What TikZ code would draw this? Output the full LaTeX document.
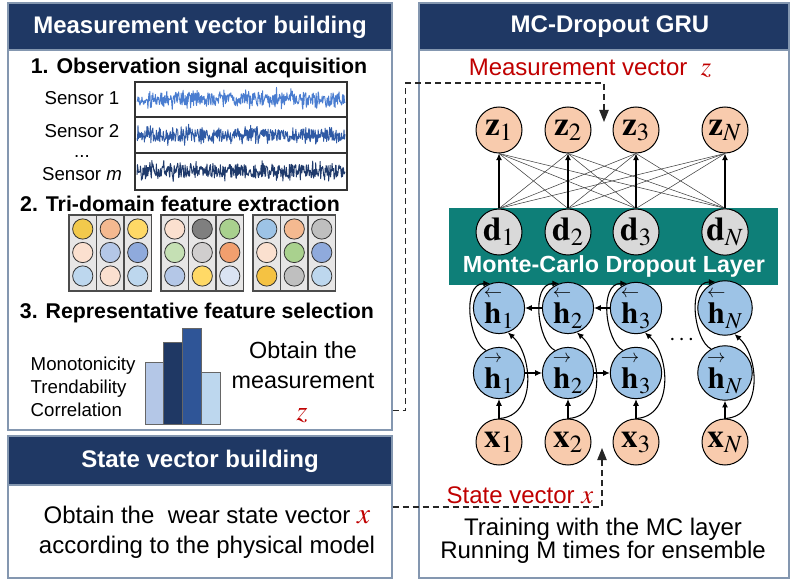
\documentclass[tikz,border=0pt]{standalone}
\usepackage{amsmath}
\usepackage{mathptmx}
\usepackage[no-math]{fontspec}
\setmainfont{Liberation Sans}
\usetikzlibrary{arrows.meta,positioning,fit,calc}
\definecolor{navy}{HTML}{1F3864}
\definecolor{panelline}{HTML}{8497B0}
\definecolor{mcteal}{HTML}{0E7F78}
\definecolor{vecred}{HTML}{C00000}
\definecolor{obsfill}{HTML}{F8CBAD}
\definecolor{hidfill}{HTML}{9DC3E6}
\definecolor{dropfill}{HTML}{D9D9D9}
\definecolor{sigA}{HTML}{4A7DD0}
\definecolor{sigB}{HTML}{2F5AA5}
\definecolor{sigC}{HTML}{1F3A6B}
\definecolor{barmid}{HTML}{2F5597}
\definecolor{colgray}{HTML}{E7E6E6}
% feature dot colours
\definecolor{fgold}{HTML}{F2C94C}
\definecolor{fpeachlt}{HTML}{FBE0CF}
\definecolor{fsky}{HTML}{BDD7EE}
\definecolor{fpeach}{HTML}{F4B990}
\definecolor{flav}{HTML}{B4C7E7}
\definecolor{fyellow}{HTML}{FFD966}
\definecolor{fblue}{HTML}{8FAADC}
\definecolor{fmint}{HTML}{C5E0B4}
\definecolor{fgraydk}{HTML}{7F7F7F}
\definecolor{fgraylt}{HTML}{D0CECE}
\definecolor{fgreen}{HTML}{A9D18E}
\definecolor{forange}{HTML}{F19F6E}
\definecolor{fpale}{HTML}{DAE3F3}
\definecolor{fazure}{HTML}{9DC3E6}
\definecolor{famber}{HTML}{F5C242}
\definecolor{fgray}{HTML}{BFBFBF}
\tikzset{
  panel/.style={draw=panelline, line width=1.1pt, fill=white, inner sep=0pt},
  titlebar/.style={draw=panelline, fill=navy, line width=1.1pt, inner sep=0pt},
  titletext/.style={text=white, font=\fontsize{18}{20}\selectfont\bfseries},
  steptext/.style={font=\fontsize{16}{18}\selectfont\bfseries},
  plaintext/.style={font=\fontsize{18}{22.5}\selectfont, align=center},
  redtext/.style={text=vecred, font=\fontsize{18}{20}\selectfont},
  sensortext/.style={font=\fontsize{14}{16}\selectfont},
  netnode/.style={circle, draw=black, line width=0.75pt, minimum size=34.5pt, inner sep=0pt, font=\fontsize{25}{26}\selectfont},
  obsnode/.style={netnode, fill=obsfill},
  hidnode/.style={netnode, fill=hidfill, font=\fontsize{23}{24}\selectfont},
  dropnode/.style={netnode, fill=dropfill},
  mclayer/.style={fill=mcteal, draw=none, inner sep=0pt},
  harrow/.style={-{Latex[length=5pt,width=4.5pt]}, line width=0.8pt, draw=black},
  crossline/.style={line width=0.4pt, draw=black!75},
  dashlink/.style={-{Triangle[length=9pt,width=7pt]}, dash pattern=on 4.5pt off 3pt, line width=0.8pt, draw=black!85},
  signal/.style={line width=0.7pt, line join=round},
  featcol/.style={draw=black!70, fill=colgray, line width=0.8pt},
  featdot/.style={draw=black!80, line width=0.6pt},
  bar/.style={draw=black!60, line width=0.6pt}
}
\newcommand{\hfw}[1]{$\overset{\scriptscriptstyle\rightarrow}{\mathbf{h}}_{#1}$}
\newcommand{\hbw}[1]{$\overset{\scriptscriptstyle\leftarrow}{\mathbf{h}}_{#1}$}

\begin{document}
\begin{tikzpicture}[x=0.75pt, y=-0.75pt]
  \useasboundingbox (0,0) rectangle (790,581);

  % ---- measurement vector panel ----
  \node[panel, fit={(8,3) (392,430)}] (meas) {};
  \node[titlebar, fit={(8,3) (392,50)}] (meastitle) {};
  \node[titletext] (meashead) at (200,27) {Measurement vector building};
  \node[steptext] (stepone) at (199,68) {1. Observation signal acquisition};

  \node[sensortext] (sens1) at (82,98) {Sensor 1};
  \node[sensortext] (sens2) at (82,131) {Sensor 2};
  \node[sensortext] (sensdots) at (82,157) {...};
  \node[sensortext] (sensm) at (82,174) {Sensor \textit{m}};

  \pgfmathsetseed{11}
  \begin{scope}
    \clip (135,82) rectangle (347,190);
    \foreach \sy/\sc in {99/sigA,135/sigB,171/sigC}
      \draw[signal, draw=\sc] plot[domain=137:345, samples=420] (\x, {\sy+rand*(6+6*pow(abs(rand),3))});
  \end{scope}
  \draw[line width=0.9pt, draw=black!80] (135,82) rectangle (347,190);
  \draw[line width=0.9pt, draw=black!80] (135,117) -- (347,117) (135,153) -- (347,153);

  \node[steptext] (steptwo) at (180,204) {2. Tri-domain feature extraction};
  \foreach \gx in {69,161,253}
    \foreach \c in {0,1,2}
      \draw[featcol] ({\gx+\c*27.5},215) rectangle ++(27.5,76);
  \foreach \cx/\ca/\cb/\cc in {82.75/fgold/fpeachlt/fsky, 110.25/fpeach/flav/fpeachlt, 137.75/fyellow/fblue/fsky,
                               174.75/fpeachlt/fmint/flav, 202.25/fgraydk/fgraylt/fyellow, 229.75/fgreen/forange/fpale,
                               266.75/fazure/fpeachlt/famber, 294.25/fpeach/fgreen/fgray, 321.75/fgray/fblue/fsky} {
    \draw[featdot, fill=\ca] (\cx,229) circle[radius=7.6pt];
    \draw[featdot, fill=\cb] (\cx,252.5) circle[radius=7.6pt];
    \draw[featdot, fill=\cc] (\cx,276) circle[radius=7.6pt];
  }

  \node[steptext] (stepthree) at (197,313) {3. Representative feature selection};
  \node[sensortext, anchor=west, align=left, font=\fontsize{14}{17.25}\selectfont] (criteria) at (26,387) {Monotonicity\\Trendability\\Correlation};
  \draw[bar, fill=flav] (145,362) rectangle (163,424);
  \draw[bar, fill=navy] (163,342) rectangle (182,424);
  \draw[bar, fill=barmid] (182,328) rectangle (201,424);
  \draw[bar, fill=fsky] (201,372) rectangle (220,424);
  \node[plaintext, font=\fontsize{17.5}{22.5}\selectfont] (obtainz) at (303,365) {Obtain the\\measurement};
  \node[text=vecred, font=\fontsize{21}{22}\selectfont] (zsym) at (302,416) {$z$};

  % ---- state vector panel ----
  \node[panel, fit={(8,436) (392,578)}] (statebox) {};
  \node[titlebar, fit={(8,436) (392,485)}] (statetitle) {};
  \node[titletext] (statehead) at (200,461) {State vector building};
  \node[plaintext] (obtainx) at (207,532) {Obtain the \ wear state vector {\color{vecred}\fontsize{22}{22}\selectfont$x$}\\according to the physical model};

  % ---- MC-dropout GRU panel ----
  \node[panel, fit={(419,3) (789,578)}] (gru) {};
  \node[titlebar, fit={(419,3) (789,50)}] (grutitle) {};
  \node[titletext] (gruhead) at (610,27) {MC-Dropout GRU};
  \node[redtext] (zlabel) at (590,68) {Measurement vector \ {\fontsize{20}{20}\selectfont$z$}};

  \node[mclayer, fit={(449,208) (778,285)}] (mcl) {};
  \node[titletext, font=\fontsize{17.5}{20}\selectfont\bfseries] (mcltext) at (614,266) {Monte-Carlo Dropout Layer};

  \foreach \cx/\k [count=\i] in {499/1,568/2,636/3,725/N} {
    \node[obsnode] (z\i) at (\cx,130) {$\mathbf{z}_{\k}$};
    \node[dropnode] (d\i) at (\cx,232) {$\mathbf{d}_{\k}$};
    \node[hidnode] (hb\i) at (\cx,308) {\hbw{\k}};
    \node[hidnode] (hf\i) at (\cx,373) {\hfw{\k}};
    \node[obsnode] (x\i) at (\cx,442) {$\mathbf{x}_{\k}$};
  }
  \node[font=\fontsize{18}{20}\selectfont] (hdots) at (683,340) {$\cdots$};

  % fully connected dropout -> output
  \foreach \i in {1,...,4}
    \foreach \j in {1,...,4} {
      \ifnum\i=\j\relax\else\draw[crossline] (d\i.north) -- (z\j.south);\fi
    }
  \foreach \i in {1,...,4} {
    \draw[harrow] (d\i) -- (z\i);
    \draw[harrow] (x\i) -- (hf\i);
    \draw[harrow] (x\i.north) .. controls +(38,-2) and +(25,22) .. (hb\i.-70);
    \draw[harrow] (hf\i.120) .. controls +(-17,-8) and +(-29,0) .. (hb\i.110);
  }
  \draw[harrow] (hf1) -- (hf2);
  \draw[harrow] (hf2) -- (hf3);
  \draw[harrow] (hb3) -- (hb2);
  \draw[harrow] (hb2) -- (hb1);

  % dashed feeds into the network
  \coordinate (zturn) at (604,83);
  \coordinate (zin) at (604,122);
  \coordinate (xin) at (602,448);
  \draw[dashlink] ([yshift=15pt]meas.south east) -- ++(13,0) |- (zturn) -- (zin);
  \draw[dashlink] (statebox.east) -| (xin);
  \node[redtext] (xlabel) at (520,495) {State vector {\fontsize{20}{20}\selectfont$x$}};
  \node[plaintext, font=\fontsize{18}{17.25}\selectfont] (trainnote) at (603,541) {Training with the MC layer\\Running M times for ensemble};
\end{tikzpicture}
\end{document}
